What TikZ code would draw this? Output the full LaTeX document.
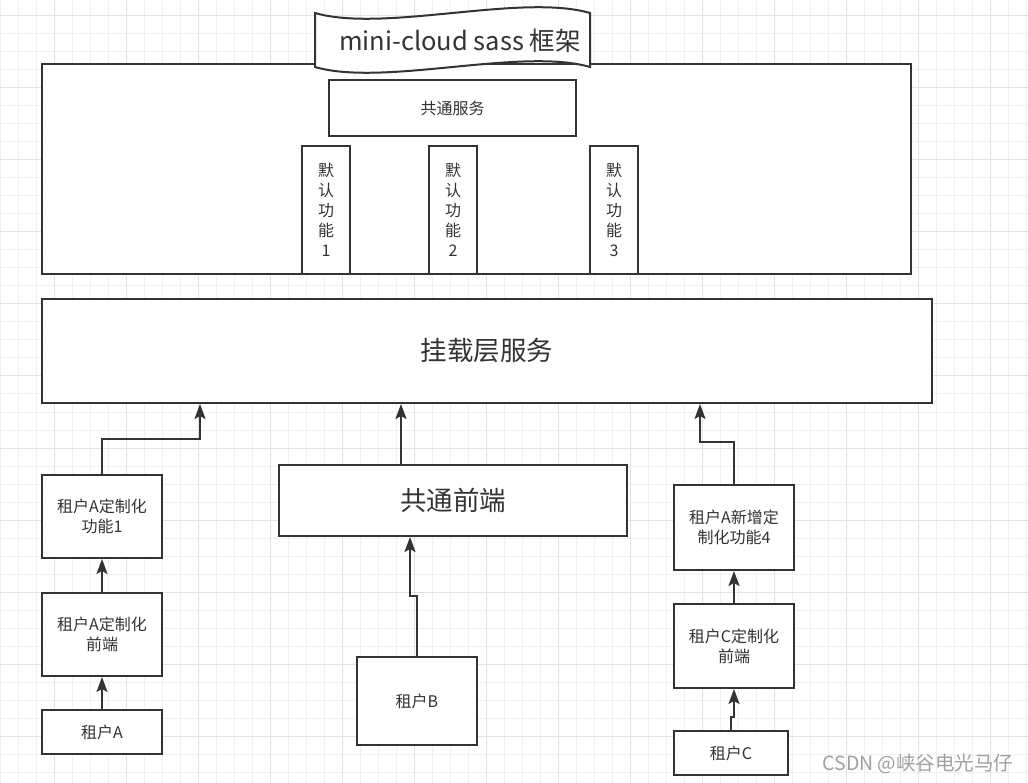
\documentclass[tikz,border=0pt]{standalone}
\usepackage{fontspec}
\setmainfont{Noto Sans CJK SC}
\usepackage{xcolor}
\usepackage{tikz}
\usetikzlibrary{arrows.meta, positioning, calc}
\definecolor{linegris}{RGB}{51, 51, 51}
\definecolor{rejilla}{RGB}{240, 240, 240}
\definecolor{rejillaf}{RGB}{226, 226, 226}
\definecolor{marca}{RGB}{160, 160, 160}

\begin{document}
\begin{tikzpicture}[x=1pt, y=-1pt,
    box/.style={rectangle, draw=linegris, line width=2pt, fill=white, align=center, inner sep=0pt, text=linegris, font=\fontsize{16}{20}\selectfont},
    bigbox/.style={box, font=\fontsize{26.5}{30}\selectfont},
    vbox/.style={box, minimum width=48pt, minimum height=128pt},
    tenant/.style={box, minimum width=120pt},
    arrow/.style={-{Stealth[length=15pt, width=11pt, inset=3pt]}, line width=2pt, linegris}
]
\useasboundingbox (0,0) rectangle (1028,783);
\fill[white] (0,0) rectangle (1028,783);
\foreach \x in {0,18,...,1026} \draw[rejilla, line width=1pt] (\x,0) -- (\x,783);
\foreach \y in {16,34,...,782} \draw[rejilla, line width=1pt] (0,\y) -- (1028,\y);
\foreach \x in {54,126,...,1026} \draw[rejillaf, line width=1pt] (\x,0) -- (\x,783);
\foreach \y in {16,88,...,782} \draw[rejillaf, line width=1pt] (0,\y) -- (1028,\y);

\node[box, minimum width=869pt, minimum height=210pt] (frame) at (476.5,169) {};
\draw[line width=2pt, linegris, fill=white] (315,13) .. controls (384,33) and (521,-7) .. (590,13)
    -- (590,67) .. controls (521,47) and (384,87) .. (315,67) -- cycle;
\node[text=linegris, font=\fontsize{25.5}{28}\selectfont] (title) at (460,41) {mini-cloud sass 框架};

\node[box, minimum width=247pt, minimum height=56pt] (serv) at (452.5,108) {共通服务};
\node[vbox] (def1) at (326,210) {默\\认\\功\\能\\1};
\node[vbox] (def2) at (453,210) {默\\认\\功\\能\\2};
\node[vbox] (def3) at (614,210) {默\\认\\功\\能\\3};

\node[bigbox, minimum width=890pt, minimum height=104pt] (mount) at (487,351) {挂载层服务};

\node[tenant, minimum height=83pt] (a1) at (102,516.5) {租户A定制化\\功能1};
\node[tenant, minimum height=83pt] (a2) at (102,634.5) {租户A定制化\\前端};
\node[tenant, minimum height=44pt] (ta) at (102,732) {租户A};

\node[bigbox, minimum width=348pt, minimum height=71pt] (front) at (453,500.5) {共通前端};
\node[tenant, minimum height=88pt] (tb) at (417,701) {租户B};

\node[tenant, minimum height=85pt] (c4) at (734,527.5) {租户A新增定\\制化功能4};
\node[tenant, minimum height=84pt] (c2) at (734,646) {租户C定制化\\前端};
\node[tenant, minimum width=114pt, minimum height=44pt] (tc) at (731,753) {租户C};

\node[anchor=west, text=marca, font=\fontsize{19.5}{22}\selectfont] (mark) at (819,764) {CSDN @峡谷电光马仔};

\draw[arrow] (a1.north) -- ++(0,-35) -| ([xshift=-287pt]mount.south);
\draw[arrow] (a2.north) -- (a1.south);
\draw[arrow] (ta.north) -- (a2.south);
\draw[arrow] ([xshift=-52pt]front.north) -- ([xshift=-52pt]front.north |- mount.south);
\draw[arrow] (tb.north) -- ++(0,-60) -| ([xshift=-43pt]front.south);
\draw[arrow] (c4.north) -- ++(0,-42) -| ([xshift=213pt]mount.south);
\draw[arrow] (c2.north) -- (c4.south);
\draw[arrow] (tc.north) -- ++(0,-13) -| (c2.south);
\end{tikzpicture}
\end{document}
